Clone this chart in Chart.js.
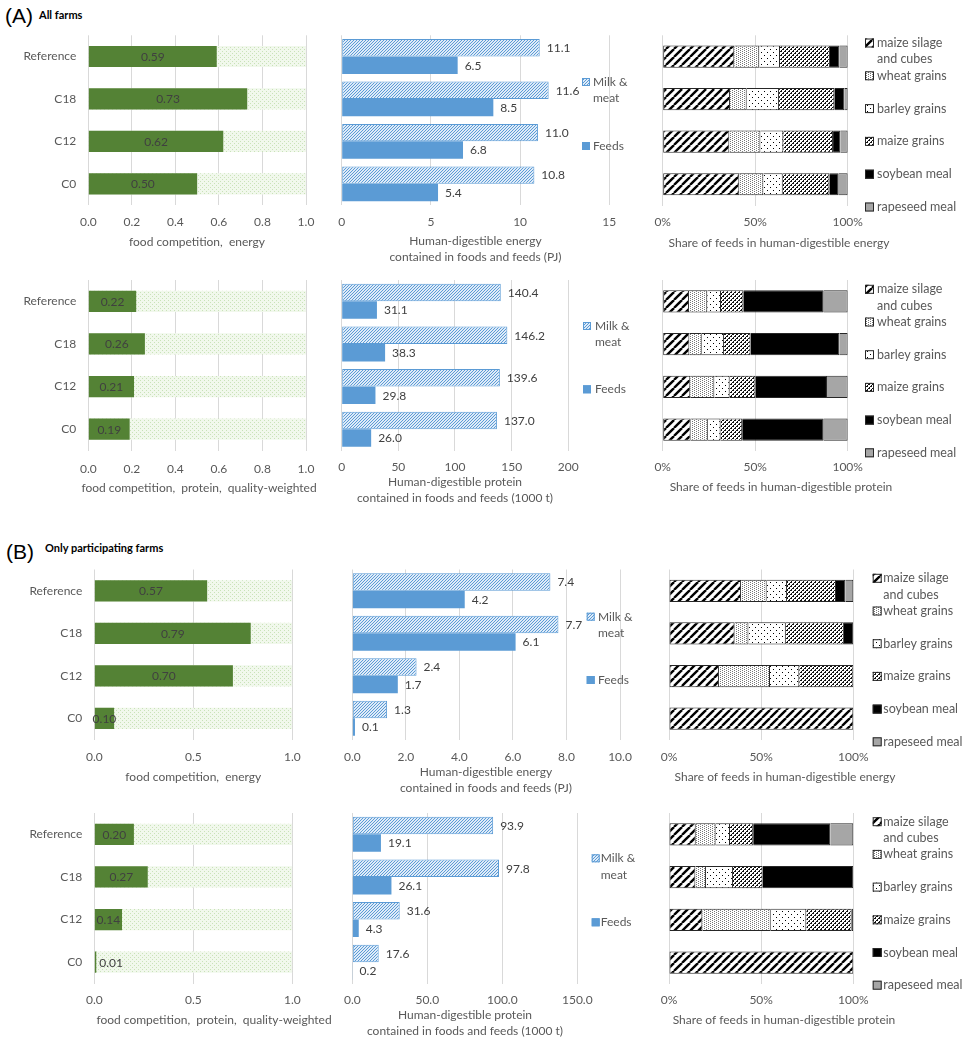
<!DOCTYPE html>
<html>
<head>
<meta charset="utf-8">
<script src="https://cdn.jsdelivr.net/npm/chart.js@4.4.0/dist/chart.umd.min.js"></script>
<style>
  body { margin: 0; background: #fff; width: 971px; height: 1041px; position: relative; overflow: hidden; }
  canvas { position: absolute; }
  .hd { position: absolute; font-family: "Liberation Sans", Arial, sans-serif; font-size: 21px; color: #000; line-height: 24px; }
  .sub { position: absolute; font-family: Lato, sans-serif; font-weight: bold; font-size: 11px; color: #000; line-height: 14px; }
</style>
</head>
<body>
<div class="hd" style="left:5px;top:4px">(A)</div>
<div class="sub" style="left:39px;top:8px">All farms</div>
<div class="hd" style="left:6px;top:540px">(B)</div>
<div class="sub" style="left:45px;top:541px">Only participating farms</div>
<script>
// ---- data ----
const scenarios = ["Reference", "C18", "C12", "C0"];

// food competition indicators (share, 0..1)
const compEnergyA = [0.59, 0.73, 0.62, 0.50];
const compProteinA = [0.22, 0.26, 0.21, 0.19];
const compEnergyB = [0.57, 0.79, 0.70, 0.10];
const compProteinB = [0.20, 0.27, 0.14, 0.01];
const fullScale = [1, 1, 1, 1];

// human-digestible energy (PJ) and protein (1000 t)
const milkEnergyA = [11.1, 11.6, 11.0, 10.8];
const feedEnergyA = [6.5, 8.5, 6.8, 5.4];
const milkProteinA = [140.4, 146.2, 139.6, 137.0];
const feedProteinA = [31.1, 38.3, 29.8, 26.0];
const milkEnergyB = [7.4, 7.7, 2.4, 1.3];
const feedEnergyB = [4.2, 6.1, 1.7, 0.1];
const milkProteinB = [93.9, 97.8, 31.6, 17.6];
const feedProteinB = [19.1, 26.1, 4.3, 0.2];

const productLegend = [["Milk &", "meat"], ["Feeds"]];

// feed shares (%), one row per feed type, columns follow scenarios
const feedLegend = [["maize silage", "and cubes"], ["wheat grains"], ["barley grains"], ["maize grains"], ["soybean meal"], ["rapeseed meal"]];
const shareEnergyA = [
  [38.7, 36.4, 36.0, 41.4],
  [13.5, 9.0, 16.8, 13.0],
  [11.2, 17.5, 12.4, 10.5],
  [27.0, 29.9, 26.9, 25.2],
  [5.1, 5.4, 3.9, 5.0],
  [4.5, 1.8, 4.0, 4.9]
];
const shareProteinA = [
  [14.2, 14.4, 14.9, 15.1],
  [9.9, 6.7, 13.0, 9.3],
  [7.4, 12.0, 8.3, 6.9],
  [12.1, 14.4, 13.9, 11.7],
  [43.4, 48.0, 38.7, 44.0],
  [13.0, 4.5, 11.2, 13.0]
];
const shareEnergyB = [
  [39.1, 35.6, 27.1, 100],
  [13.9, 7.5, 27.7, 0],
  [11.0, 20.3, 15.9, 0],
  [26.6, 31.5, 29.3, 0],
  [5.1, 5.1, 0, 0],
  [4.3, 0, 0, 0]
];
const shareProteinB = [
  [14.5, 14.3, 18.1, 100],
  [10.8, 5.8, 37.1, 0],
  [7.8, 14.6, 19.3, 0],
  [12.6, 16.1, 24.6, 0],
  [41.8, 49.2, 0.9, 0],
  [12.5, 0, 0, 0]
];

// tick labels
const compTicksA = ["0.0", "0.2", "0.4", "0.6", "0.8", "1.0"];
const compTicksB = ["0.0", "0.5", "1.0"];
const energyTicksA = ["0", "5", "10", "15"];
const proteinTicksA = ["0", "50", "100", "150", "200"];
const energyTicksB = ["0.0", "2.0", "4.0", "6.0", "8.0", "10.0"];
const proteinTicksB = ["0.0", "50.0", "100.0", "150.0"];
const shareTicks = ["0%", "50%", "100%"];

// ---- styles ----
const FONT = 'Lato, "Open Sans", sans-serif';
const GRAY = '#595959';
const GREEN = '#548235';
const BLUE = '#5B9BD5';

function tile(size, bg, draw) {
  const c = document.createElement('canvas');
  c.width = c.height = size;
  const g = c.getContext('2d');
  g.fillStyle = bg;
  g.fillRect(0, 0, size, size);
  draw(g);
  return g.createPattern(c, 'repeat');
}
function dots(pts, color) {
  return g => { g.fillStyle = color; pts.forEach(p => g.fillRect(p[0], p[1], 1, 1)); };
}

const greenBg = tile(4, '#f1f8ec', dots([[0, 0], [2, 2]], '#c9e2b8'));
const milkFill = tile(3, '#dfebf8', dots([[2, 0], [1, 1], [0, 2]], BLUE));
const feedFills = [
  tile(8, '#ffffff', g => {
    g.strokeStyle = '#000'; g.lineWidth = 2.4;
    [-8, 0, 8].forEach(k => { g.beginPath(); g.moveTo(k, 8); g.lineTo(k + 8, 0); g.stroke(); });
  }),
  tile(4, '#ffffff', dots([[0, 0], [2, 1], [0, 2], [2, 3]], '#777')),
  tile(6, '#ffffff', dots([[0, 0], [3, 3]], '#000')),
  tile(4, '#ffffff', dots([[0, 0], [1, 0], [3, 1], [2, 2], [3, 2], [1, 3]], '#111')),
  '#000000',
  '#a6a6a6'
];

// ---- helpers ----
function makeCanvas(box) {
  const c = document.createElement('canvas');
  c.width = box[2]; c.height = box[3];
  c.style.left = box[0] + 'px'; c.style.top = box[1] + 'px';
  c.style.width = box[2] + 'px'; c.style.height = box[3] + 'px';
  document.body.appendChild(c);
  return c;
}

function options(p, stacked) {
  const box = p.box, area = p.area;
  return {
    responsive: false, animation: false, indexAxis: 'y', events: [],
    layout: { padding: { left: 0, bottom: 0, top: area[1] - box[1], right: box[0] + box[2] - area[2] } },
    plugins: { legend: { display: false }, tooltip: { enabled: false } },
    scales: {
      x: {
        type: 'linear', min: 0, max: p.max, stacked: stacked,
        grid: { color: '#d9d9d9', lineWidth: 1, drawTicks: false },
        border: { display: false },
        ticks: {
          stepSize: p.step, autoSkip: false, maxRotation: 0, color: GRAY,
          font: { family: FONT, size: 12 }, padding: p.tickY - area[3] - 7,
          callback: (v, i) => p.ticks[i]
        },
        afterFit: s => {
          s.height = box[1] + box[3] - area[3];
          s.paddingLeft = s.paddingRight = s.paddingTop = s.paddingBottom = 0;
        }
      },
      y: {
        stacked: stacked,
        grid: { display: false, drawTicks: false }, border: { display: false },
        ticks: { display: !!p.cats, color: GRAY, font: { family: FONT, size: 12 }, padding: 12 },
        afterFit: s => {
          s.width = area[0] - box[0];
          s.paddingLeft = s.paddingRight = s.paddingTop = s.paddingBottom = 0;
        }
      }
    }
  };
}

function decor(p) {
  return {
    id: 'decor',
    afterDatasetsDraw(chart) {
      const ctx = chart.ctx;
      ctx.save();
      ctx.font = '12px ' + FONT;
      ctx.textBaseline = 'middle';
      ctx.fillStyle = '#404040';
      (p.values || []).forEach(vs => {
        const ds = chart.data.datasets[vs.index];
        chart.getDatasetMeta(vs.index).data.forEach((el, i) => {
          const txt = ds.data[i].toFixed(vs.digits);
          const w = Math.abs(el.x - el.base);
          if (vs.mode === 'center' && w > 8) {
            ctx.textAlign = 'center';
            ctx.fillText(txt, (el.x + el.base) / 2, el.y + 0.5);
          } else {
            ctx.textAlign = 'left';
            ctx.fillText(txt, el.x + (vs.mode === 'center' ? 3 : 7), el.y + 0.5);
          }
        });
      });
      ctx.translate(-p.box[0], -p.box[1]);
      ctx.fillStyle = GRAY;
      ctx.textAlign = 'center';
      p.title.lines.forEach((t, k) => ctx.fillText(t, p.title.x, p.title.ys[k]));
      if (p.legend) {
        const L = p.legend;
        ctx.textAlign = 'left';
        ctx.font = L.font + 'px ' + FONT;
        L.labels.forEach((lines, k) => {
          const y0 = L.ys[k];
          ctx.fillStyle = L.fills[k];
          ctx.fillRect(L.swX, y0 - L.size / 2, L.size, L.size);
          ctx.strokeStyle = L.strokes[k];
          ctx.lineWidth = 1;
          ctx.strokeRect(L.swX + 0.5, y0 - L.size / 2 + 0.5, L.size - 1, L.size - 1);
          ctx.fillStyle = GRAY;
          lines.forEach((t, j) => ctx.fillText(t, L.txX, y0 + j * L.lineGap));
        });
      }
      ctx.restore();
    }
  };
}

function compPanel(p, values) {
  const cfg = {
    type: 'bar',
    data: {
      labels: scenarios,
      datasets: [
        { data: values, backgroundColor: GREEN, grouped: false, order: 0, categoryPercentage: 0.5, barPercentage: 1 },
        { data: fullScale, backgroundColor: greenBg, grouped: false, order: 1, categoryPercentage: 0.5, barPercentage: 1 }
      ]
    },
    options: options(p, false),
    plugins: [decor(Object.assign({ values: [{ index: 0, digits: 2, mode: 'center' }] }, p))]
  };
  new Chart(makeCanvas(p.box), cfg);
}

function amountPanel(p, milk, feed) {
  const cfg = {
    type: 'bar',
    data: {
      labels: scenarios,
      datasets: [
        { data: milk, backgroundColor: milkFill, borderColor: BLUE, borderWidth: 1, borderSkipped: false, categoryPercentage: 0.82, barPercentage: 1 },
        { data: feed, backgroundColor: BLUE, borderWidth: 0, categoryPercentage: 0.82, barPercentage: 1 }
      ]
    },
    options: options(p, false),
    plugins: [decor(Object.assign({
      values: [{ index: 0, digits: 1, mode: 'end' }, { index: 1, digits: 1, mode: 'end' }],
      legend: {
        labels: productLegend, fills: [milkFill, BLUE], strokes: [BLUE, BLUE],
        swX: p.leg.swX, txX: p.leg.txX, ys: p.leg.ys, size: 8, font: 12, lineGap: 16.5
      }
    }, p))]
  };
  new Chart(makeCanvas(p.box), cfg);
}

function sharePanel(p, shares) {
  const cfg = {
    type: 'bar',
    data: {
      labels: scenarios,
      datasets: shares.map((row, k) => ({
        data: row, backgroundColor: feedFills[k], borderColor: '#262626',
        borderWidth: { top: 1, bottom: 1, right: 1, left: k === 0 ? 1 : 0 },
        borderSkipped: false, categoryPercentage: 0.52, barPercentage: 1
      }))
    },
    options: options(p, true),
    plugins: [decor(Object.assign({
      legend: {
        labels: feedLegend, fills: feedFills, strokes: feedLegend.map(() => '#262626'),
        swX: p.leg.swX, txX: p.leg.txX,
        ys: feedLegend.map((_, k) => p.leg.y0 + k * p.leg.step), size: 9, font: 12.5, lineGap: p.leg.step / 2
      }
    }, p))]
  };
  new Chart(makeCanvas(p.box), cfg);
}

// ---- panels ----
compPanel({ box: [0, 25, 330, 240], area: [88.3, 35.3, 306, 205], max: 1, step: 0.2, ticks: compTicksA, tickY: 222, cats: true,
  title: { x: 197, ys: [242], lines: ["food competition,  energy"] } }, compEnergyA);
compPanel({ box: [0, 268, 330, 232], area: [88.3, 280, 306, 450.5], max: 1, step: 0.2, ticks: compTicksA, tickY: 469, cats: true,
  title: { x: 199, ys: [488], lines: ["food competition,  protein,  quality-weighted"] } }, compProteinA);
compPanel({ box: [0, 558, 345, 237], area: [94.3, 569.5, 292.3, 739.5], max: 1, step: 0.5, ticks: compTicksB, tickY: 757, cats: true,
  title: { x: 193.3, ys: [777], lines: ["food competition,  energy"] } }, compEnergyB);
compPanel({ box: [0, 803, 345, 238], area: [94.3, 813, 292.3, 983.5], max: 1, step: 0.5, ticks: compTicksB, tickY: 1000, cats: true,
  title: { x: 214, ys: [1020], lines: ["food competition,  protein,  quality-weighted"] } }, compProteinB);

amountPanel({ box: [330, 25, 320, 240], area: [341.7, 35.3, 609.3, 205], max: 15, step: 5, ticks: energyTicksA, tickY: 222,
  title: { x: 475.5, ys: [241, 257], lines: ["Human-digestible energy", "contained in foods and feeds (PJ)"] },
  leg: { swX: 582, txX: 593, ys: [82, 146] } }, milkEnergyA, feedEnergyA);
amountPanel({ box: [330, 268, 320, 240], area: [341.7, 280, 568.3, 450.5], max: 200, step: 50, ticks: proteinTicksA, tickY: 467,
  title: { x: 455, ys: [482.5, 498.5], lines: ["Human-digestible protein", "contained in foods and feeds (1000 t)"] },
  leg: { swX: 583, txX: 595, ys: [326, 389.3] } }, milkProteinA, feedProteinA);
amountPanel({ box: [330, 558, 320, 240], area: [352.3, 569.5, 620, 739.5], max: 10, step: 2, ticks: energyTicksB, tickY: 757,
  title: { x: 486, ys: [772, 788], lines: ["Human-digestible energy", "contained in foods and feeds (PJ)"] },
  leg: { swX: 586.7, txX: 598, ys: [616.7, 680] } }, milkEnergyB, feedEnergyB);
amountPanel({ box: [330, 803, 320, 238], area: [352.3, 813, 577.3, 983.5], max: 150, step: 50, ticks: proteinTicksB, tickY: 1000,
  title: { x: 465, ys: [1015, 1031], lines: ["Human-digestible protein", "contained in foods and feeds (1000 t)"] },
  leg: { swX: 591.7, txX: 600.7, ys: [858.3, 922.3] } }, milkProteinB, feedProteinB);

sharePanel({ box: [650, 25, 321, 240], area: [662.7, 35.3, 847.7, 205.5], max: 100, step: 50, ticks: shareTicks, tickY: 222,
  title: { x: 779, ys: [243], lines: ["Share of feeds in human-digestible energy"] },
  leg: { swX: 865, txX: 877, y0: 43, step: 32.8 } }, shareEnergyA);
sharePanel({ box: [650, 268, 321, 240], area: [662.7, 280, 847.7, 451], max: 100, step: 50, ticks: shareTicks, tickY: 467,
  title: { x: 781, ys: [487], lines: ["Share of feeds in human-digestible protein"] },
  leg: { swX: 865, txX: 877, y0: 289.3, step: 32.7 } }, shareProteinA);
sharePanel({ box: [650, 558, 321, 240], area: [669, 569.5, 853.3, 740], max: 100, step: 50, ticks: shareTicks, tickY: 757,
  title: { x: 785, ys: [777], lines: ["Share of feeds in human-digestible energy"] },
  leg: { swX: 872.7, txX: 883.3, y0: 578.3, step: 32.7 } }, shareEnergyB);
sharePanel({ box: [650, 803, 321, 238], area: [669, 813, 853.3, 984], max: 100, step: 50, ticks: shareTicks, tickY: 1000,
  title: { x: 784, ys: [1020], lines: ["Share of feeds in human-digestible protein"] },
  leg: { swX: 872.7, txX: 883.3, y0: 821.7, step: 32.7 } }, shareProteinB);
</script>
</body>
</html>
